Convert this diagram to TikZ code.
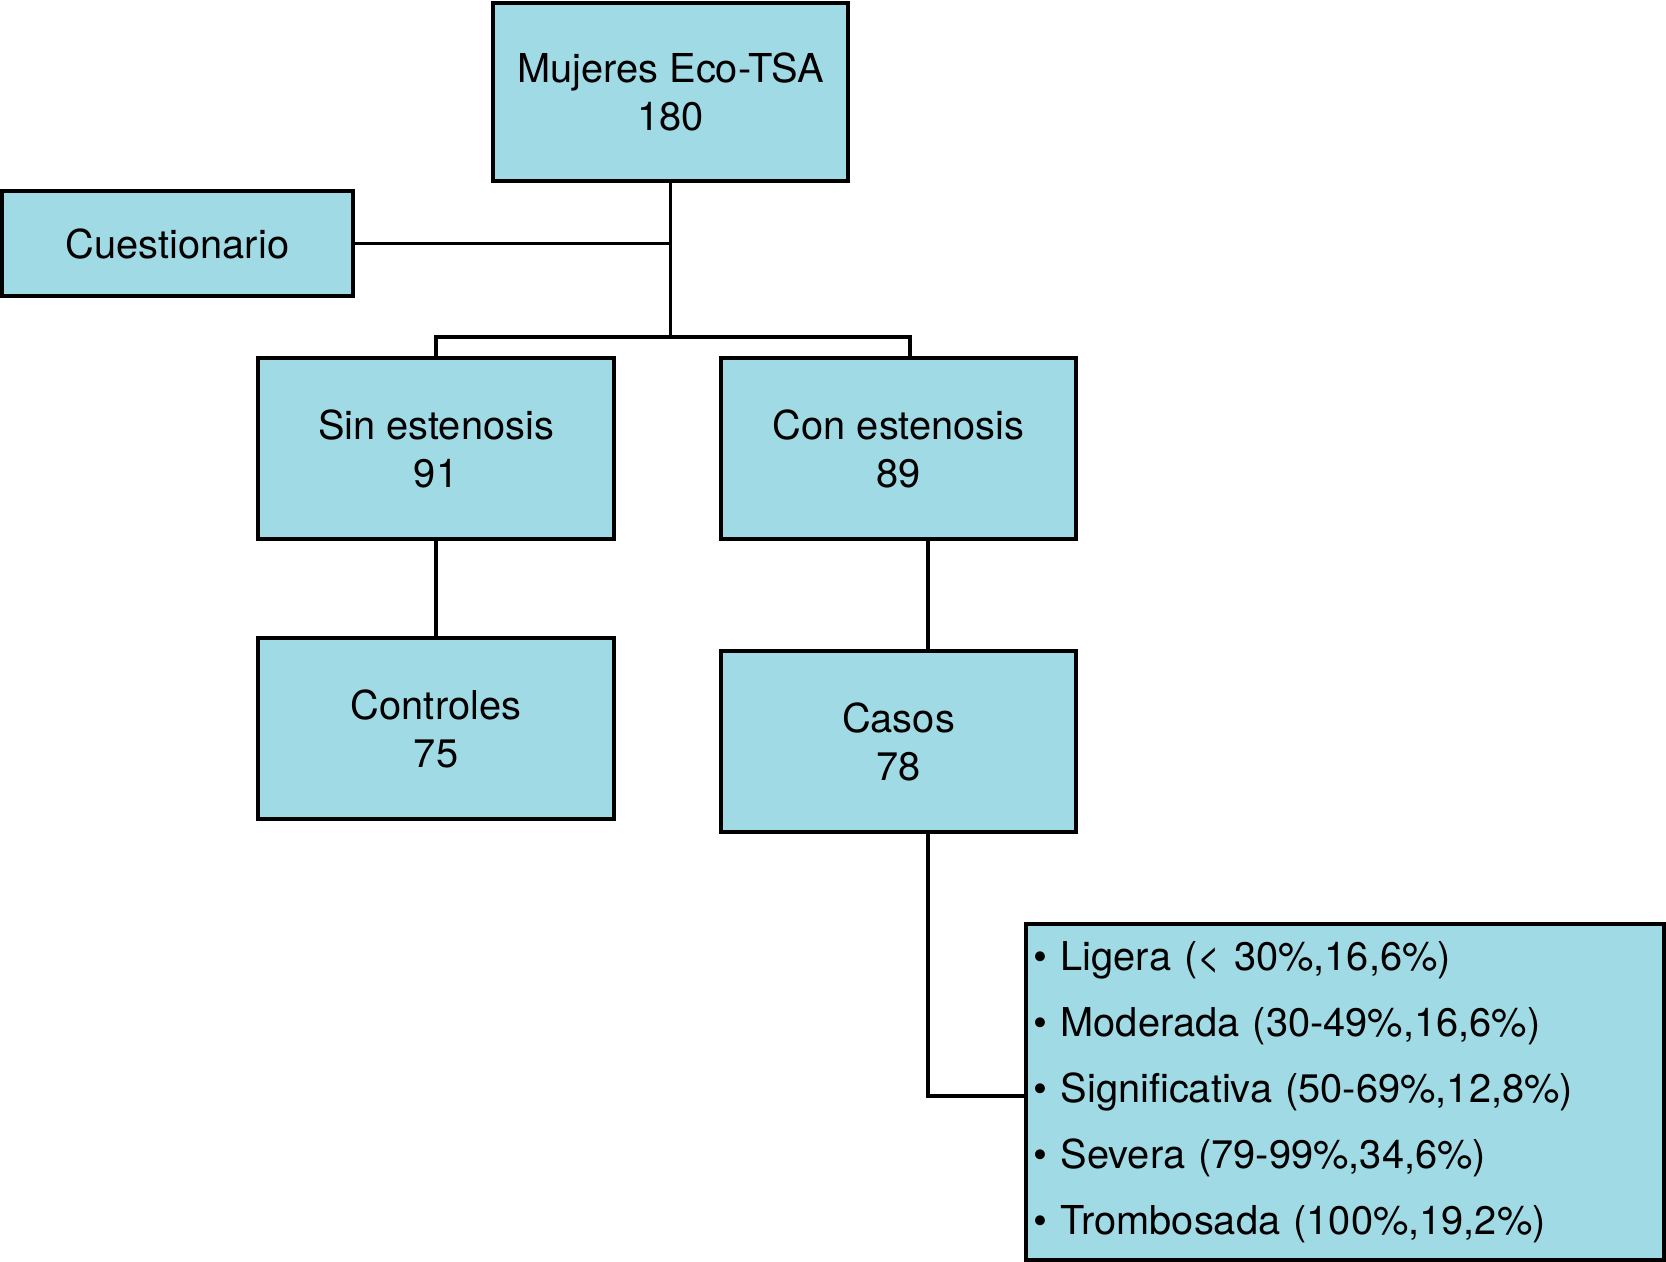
\documentclass[tikz,border=0pt]{standalone}
\usepackage{fontspec}
\setmainfont{TeX Gyre Heros}
\definecolor{boxfill}{RGB}{160,218,228}
\begin{document}
\begin{tikzpicture}[x=0.5pt,y=-0.5pt,
  box/.style={draw=black,fill=boxfill,line width=1.8pt,inner sep=0pt,align=center,
    font=\fontsize{19.9}{24}\selectfont},
  conn/.style={draw=black,line width=1.7pt}]
\useasboundingbox (0,0) rectangle (1666,1262);
\node[box,minimum width=177.5pt,minimum height=89pt] (top) at (670.5,92) {Mujeres Eco-TSA\\180};
\node[box,minimum width=175.5pt,minimum height=52.5pt] (cuest) at (177.5,243.5) {Cuestionario};
\node[box,minimum width=178pt,minimum height=90.5pt] (sin) at (436,448.5) {Sin estenosis\\91};
\node[box,minimum width=177.5pt,minimum height=90.5pt] (con) at (898.5,448.5) {Con estenosis\\89};
\node[box,minimum width=178pt,minimum height=90.5pt] (ctrl) at (436,728.5) {Controles\\75};
\node[box,minimum width=177.5pt,minimum height=90.5pt] (casos) at (898.5,741.5) {Casos\\78};
\node[box,align=left,inner xsep=3.75pt,text width=311.5pt,minimum height=168pt,
  font=\fontsize{19.9}{33}\selectfont] (lista) at (1345,1092)
  {• Ligera (< 30\%,16,6\%)\\
   • Moderada (30-49\%,16,6\%)\\
   • Significativa (50-69\%,12,8\%)\\
   • Severa (79-99\%,34,6\%)\\
   • Trombosada (100\%,19,2\%)};
\coordinate (bus) at (670.5,337);
\draw[conn] (top.south) -- (bus);
\draw[conn] (cuest.east) -- (cuest.east -| top.south);
\draw[conn] (sin.north) |- (bus) -| ([xshift=5.75pt]con.north);
\draw[conn] (sin.south) -- (ctrl.north);
\draw[conn] ([xshift=14.75pt]con.south) -- ([xshift=14.75pt]casos.north);
\draw[conn] ([xshift=14.75pt]casos.south) |- ([yshift=-2pt]lista.west);
\end{tikzpicture}
\end{document}
